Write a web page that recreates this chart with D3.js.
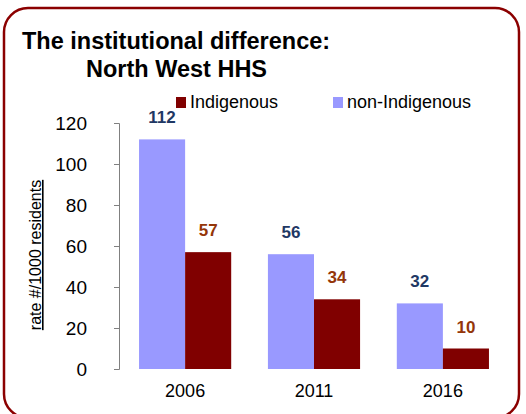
<!DOCTYPE html>
<html>
<head>
<meta charset="utf-8">
<script src="https://cdn.jsdelivr.net/npm/d3@7"></script>
<style>
  body { margin: 0; background: #fff; }
  svg { display: block; font-family: "Liberation Sans", Arial, sans-serif; }
</style>
</head>
<body>
<svg id="chart" width="526" height="414"></svg>
<script>
const years = ["2006", "2011", "2016"];
const nonIndigenous = [112, 56, 32];
const indigenous = [57, 34, 10];
const seriesNames = ["non-Indigenous", "Indigenous"];
const yTicks = [0, 20, 40, 60, 80, 100, 120];

const colors = { "non-Indigenous": "#9999ff", "Indigenous": "#800000" };
const labelColors = { "non-Indigenous": "#1f3864", "Indigenous": "#943609" };

const svg = d3.select("#chart");

// rounded frame
svg.append("rect")
    .attr("x", 4).attr("y", 8)
    .attr("width", 515).attr("height", 410)
    .attr("rx", 24)
    .attr("fill", "none")
    .attr("stroke", "#8b0000")
    .attr("stroke-width", 2.5);

svg.append("text")
    .attr("x", 22).attr("y", 49)
    .attr("font-size", 23.5).attr("font-weight", "bold")
    .text("The institutional difference:");
svg.append("text")
    .attr("x", 86).attr("y", 77)
    .attr("font-size", 23.5).attr("font-weight", "bold")
    .text("North West HHS");

const x0 = d3.scaleBand().domain(years).range([121, 507]).paddingInner(0.285).paddingOuter(0.14);
const x1 = d3.scaleBand().domain(seriesNames).range([0, x0.bandwidth()]);
const y = d3.scaleLinear().domain([0, 120]).range([369, 123]);

const rows = years.map((yr, i) => ({
    year: yr,
    values: [
        { key: "non-Indigenous", value: nonIndigenous[i] },
        { key: "Indigenous", value: indigenous[i] }
    ]
}));

const groups = svg.append("g").selectAll("g")
    .data(rows)
    .join("g")
    .attr("transform", d => `translate(${x0(d.year)},0)`);

groups.selectAll("rect")
    .data(d => d.values)
    .join("rect")
    .attr("x", d => x1(d.key))
    .attr("y", d => y(d.value))
    .attr("width", x1.bandwidth())
    .attr("height", d => y(0) - y(d.value))
    .attr("fill", d => colors[d.key]);

groups.selectAll("text")
    .data(d => d.values)
    .join("text")
    .attr("x", d => x1(d.key) + x1.bandwidth() / 2)
    .attr("y", d => y(d.value) - 16)
    .attr("text-anchor", "middle")
    .attr("font-size", 17).attr("font-weight", "bold")
    .attr("fill", d => labelColors[d.key])
    .text(d => d.value);

// y axis
const yAxis = svg.append("g")
    .attr("transform", "translate(119,0)")
    .call(d3.axisLeft(y).tickValues(yTicks).tickSize(5).tickPadding(27));
yAxis.select(".domain").attr("stroke", "#808080");
yAxis.selectAll(".tick line").attr("stroke", "#808080");
yAxis.selectAll(".tick text")
    .attr("font-size", 19)
    .attr("font-family", "Liberation Sans, Arial, sans-serif")
    .attr("fill", "#000");

// category labels
svg.append("g").selectAll("text")
    .data(years)
    .join("text")
    .attr("x", d => x0(d) + x0.bandwidth() / 2)
    .attr("y", 397)
    .attr("text-anchor", "middle")
    .attr("font-size", 18)
    .text(d => d);

// y label
svg.append("text")
    .attr("transform", "translate(41,255) rotate(-90)")
    .attr("text-anchor", "middle")
    .attr("font-size", 16)
    .attr("text-decoration", "underline")
    .text("rate #/1000 residents");

// legend
const legendItems = [
    { key: "Indigenous", x: 176 },
    { key: "non-Indigenous", x: 333 }
];
const legend = svg.append("g").selectAll("g")
    .data(legendItems)
    .join("g")
    .attr("transform", d => `translate(${d.x},97)`);
legend.append("rect")
    .attr("width", 10).attr("height", 11)
    .attr("fill", d => colors[d.key]);
legend.append("text")
    .attr("x", 14).attr("y", 11)
    .attr("font-size", 18)
    .text(d => d.key);
</script>
</body>
</html>
